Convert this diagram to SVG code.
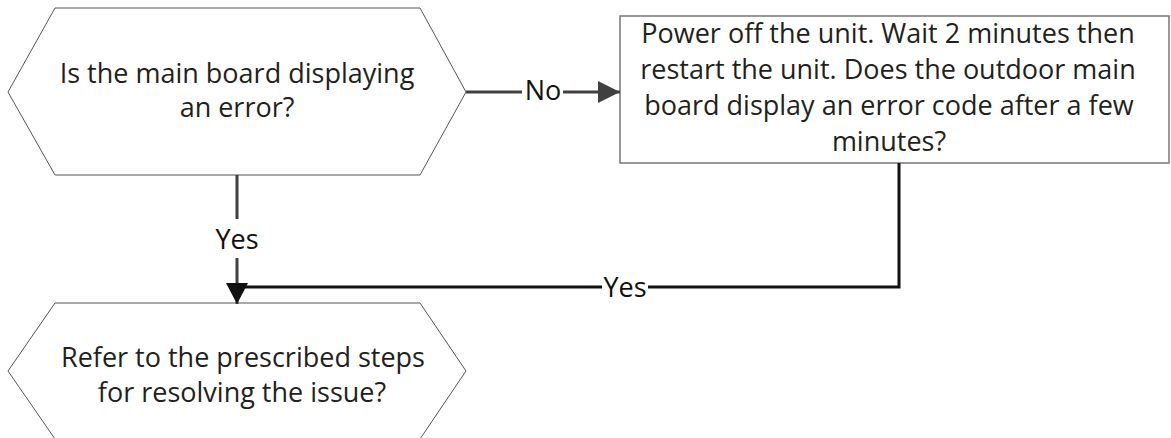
<svg xmlns="http://www.w3.org/2000/svg" width="1171" height="438" viewBox="0 0 1171 438">
  <defs>
    <style>
      .shape { fill: #ffffff; stroke: #555555; stroke-width: 1; }
      .box { fill: #ffffff; stroke: #777777; stroke-width: 1.5; }
      .txt { font-family: "Open Sans", "Liberation Sans", sans-serif; font-size: 27px; fill: #231f20; text-anchor: middle; }
      .lbl { font-family: "Open Sans", "Liberation Sans", sans-serif; font-size: 27px; fill: #111111; text-anchor: middle; }
      .gray { fill: none; stroke: #404040; stroke-width: 3; }
      .black { fill: none; stroke: #111111; stroke-width: 3; }
    </style>
    <marker id="arrGray" markerUnits="userSpaceOnUse" markerWidth="24" markerHeight="22" refX="22" refY="11" orient="auto">
      <path d="M0,0 L22,11 L0,22 Z" fill="#404040"/>
    </marker>
    <marker id="arrBlack" markerUnits="userSpaceOnUse" markerWidth="24" markerHeight="24" refX="21" refY="11" orient="auto">
      <path d="M0,0 L21,11 L0,22 Z" fill="#111111"/>
    </marker>
  </defs>
  <rect width="1171" height="438" fill="#ffffff"/>

  <g id="node-q1">
    <polygon class="shape" points="8,92 55,8 420,8 466,92 420,175 55,175"/>
    <text class="txt" x="237" y="83">Is the main board displaying</text>
    <text class="txt" x="237" y="117">an error?</text>
  </g>

  <g id="node-restart">
    <rect class="box" x="620" y="16" width="549" height="147"/>
    <text class="txt" x="888" y="43">Power off the unit. Wait 2 minutes then</text>
    <text class="txt" x="888" y="79">restart the unit. Does the outdoor main</text>
    <text class="txt" x="889" y="115">board display an error code after a few</text>
    <text class="txt" x="889" y="151">minutes?</text>
  </g>

  <g id="node-refer">
    <polygon class="shape" points="8,371 55,303 420,303 466,371 420,439 55,439"/>
    <text class="txt" x="243" y="367">Refer to the prescribed steps</text>
    <text class="txt" x="242" y="402">for resolving the issue?</text>
  </g>

  <g id="connectors">
    <line class="gray" x1="466" y1="92" x2="522" y2="92"/>
    <line class="gray" x1="563" y1="92" x2="620" y2="92" marker-end="url(#arrGray)"/>
    <text class="lbl" x="543" y="100">No</text>

    <line class="gray" x1="237" y1="175" x2="237" y2="219"/>
    <line class="gray" x1="237" y1="258" x2="237" y2="304" marker-end="url(#arrBlack)"/>
    <text class="lbl" x="237" y="249">Yes</text>

    <polyline class="black" points="899,163 899,287 648,287"/>
    <line class="black" x1="602" y1="287" x2="240" y2="287"/>
    <text class="lbl" x="625" y="297">Yes</text>
  </g>
</svg>
